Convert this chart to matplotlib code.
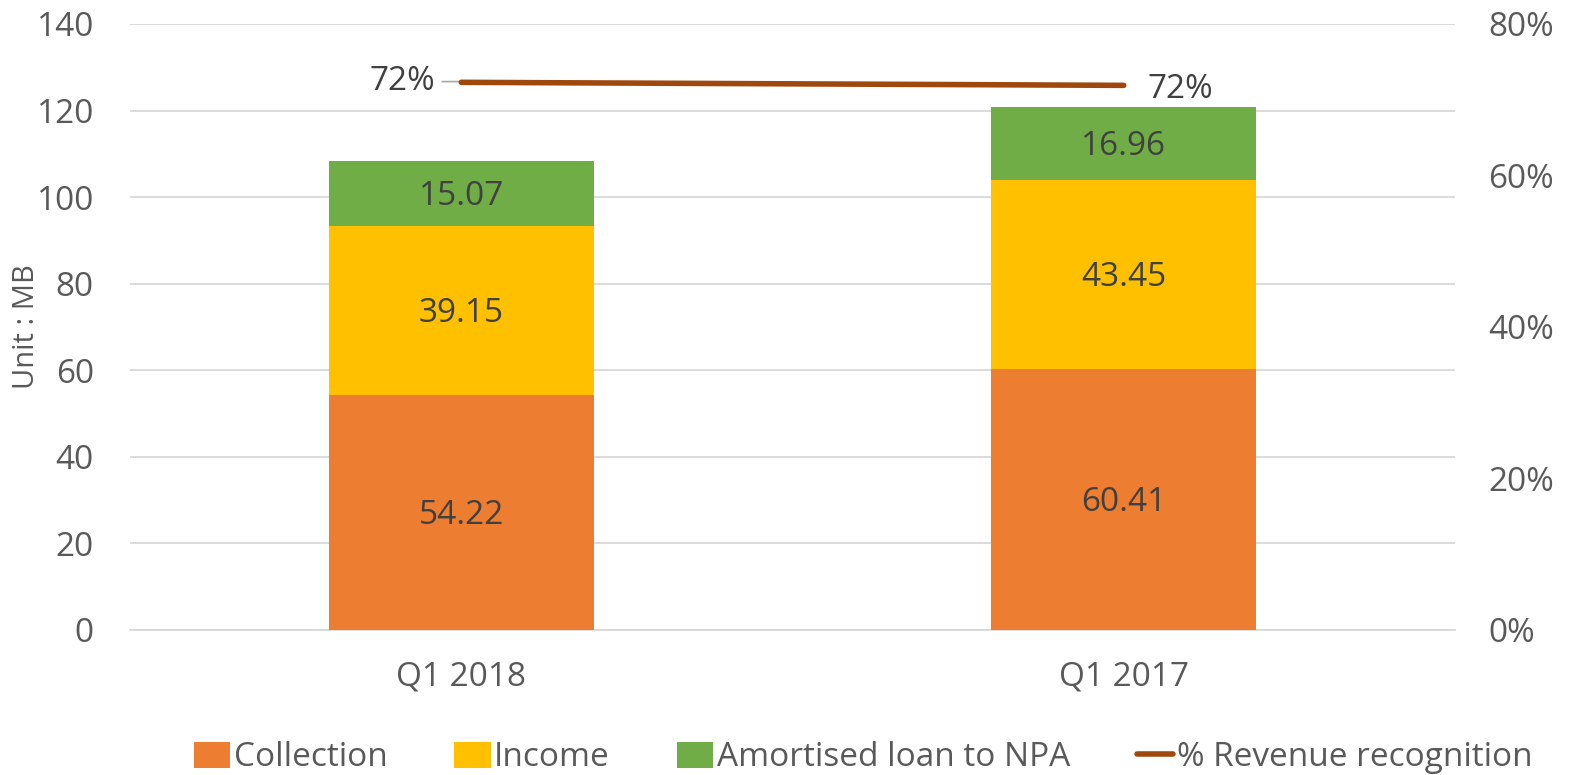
import matplotlib.pyplot as plt
import numpy as np

plt.rcParams['font.family'] = ['Open Sans', 'DejaVu Sans']

# data
categories = ["Q1 2018", "Q1 2017"]
collection = [54.22, 60.41]
income = [39.15, 43.45]
amortised = [15.07, 16.96]
revenue_pct = [72.3, 71.9]
revenue_labels = ["72%", "72%"]

c_coll = "#ED7D31"
c_inc = "#FFC000"
c_amo = "#70AD47"
c_line = "#9E480E"
txt = "#595959"
lab = "#404040"
fs = 24

fig = plt.figure(figsize=(15.69, 7.75), dpi=100)
ax = fig.add_axes([130/1569, 1-630/775, 1325/1569, 606/775])
ax2 = ax.twinx()

x = np.arange(len(categories))
w = 0.4
b1 = ax.bar(x, collection, w, color=c_coll, label="Collection", zorder=3)
bottom2 = np.array(collection)
b2 = ax.bar(x, income, w, bottom=bottom2, color=c_inc, label="Income", zorder=3)
bottom3 = bottom2 + np.array(income)
b3 = ax.bar(x, amortised, w, bottom=bottom3, color=c_amo, label="Amortised loan to NPA", zorder=3)

for vals, bots in [(collection, np.zeros(2)), (income, bottom2), (amortised, bottom3)]:
    for xi, v, b in zip(x, vals, bots):
        ax.text(xi, b + v / 2 - 0.7, f"{v:.2f}", ha="center", va="center", fontsize=fs, color=lab, zorder=4)

ax.set_ylim(0, 140)
ax.set_yticks(range(0, 141, 20))
ax.set_xlim(-0.5, 1.5)
ax.set_xticks(x)
ax.set_xticklabels(categories)
ax.grid(axis="y", color="#D9D9D9", linewidth=1.3, zorder=0)
ax.tick_params(axis="both", length=0, labelsize=fs, labelcolor=txt)
ax.tick_params(axis="y", pad=26)
ax.tick_params(axis="x", pad=22)
for s in ax.spines.values():
    s.set_visible(False)
ax.spines["bottom"].set_visible(True)
ax.spines["bottom"].set_color("#D9D9D9")
ax.spines["bottom"].set_linewidth(1.3)
fig.text(27/1569, 1-327/775, "Unit : MB", rotation=90, ha="center", va="center",
         fontsize=21, color=txt)

ln, = ax2.plot(x, revenue_pct, color=c_line, linewidth=4, solid_capstyle="round",
               label="% Revenue recognition", zorder=5)
ax2.set_ylim(0, 80)
ax2.set_yticks(range(0, 81, 20))
ax2.set_yticklabels([f"{t}%" for t in range(0, 81, 20)])
ax2.tick_params(axis="y", length=0, labelsize=fs, labelcolor=txt, pad=24)
for s in ax2.spines.values():
    s.set_visible(False)

ax2.annotate(revenue_labels[0], xy=(x[0], revenue_pct[0]), xytext=(-0.089, revenue_pct[0] + 0.1),
             ha="center", va="center", fontsize=fs, color=lab,
             arrowprops=dict(arrowstyle="-", color="#A6A6A6", lw=1.2, shrinkA=3, shrinkB=0,
                             connectionstyle="angle,angleA=0,angleB=-30,rad=3"))
ax2.text(x[1] + 0.085, revenue_pct[1] - 0.5, revenue_labels[1], ha="center", va="center",
         fontsize=fs, color=lab)

handles = [b1, b2, b3, ln]
fig.legend(handles, [h.get_label() for h in handles], loc="lower center",
           bbox_to_anchor=(0.55, -0.038), ncol=4, frameon=False, fontsize=fs,
           labelcolor=txt, handlelength=1.1, handletextpad=0.1, columnspacing=2.0,
           handleheight=0.8)

fig.savefig("out.png", dpi=100)
